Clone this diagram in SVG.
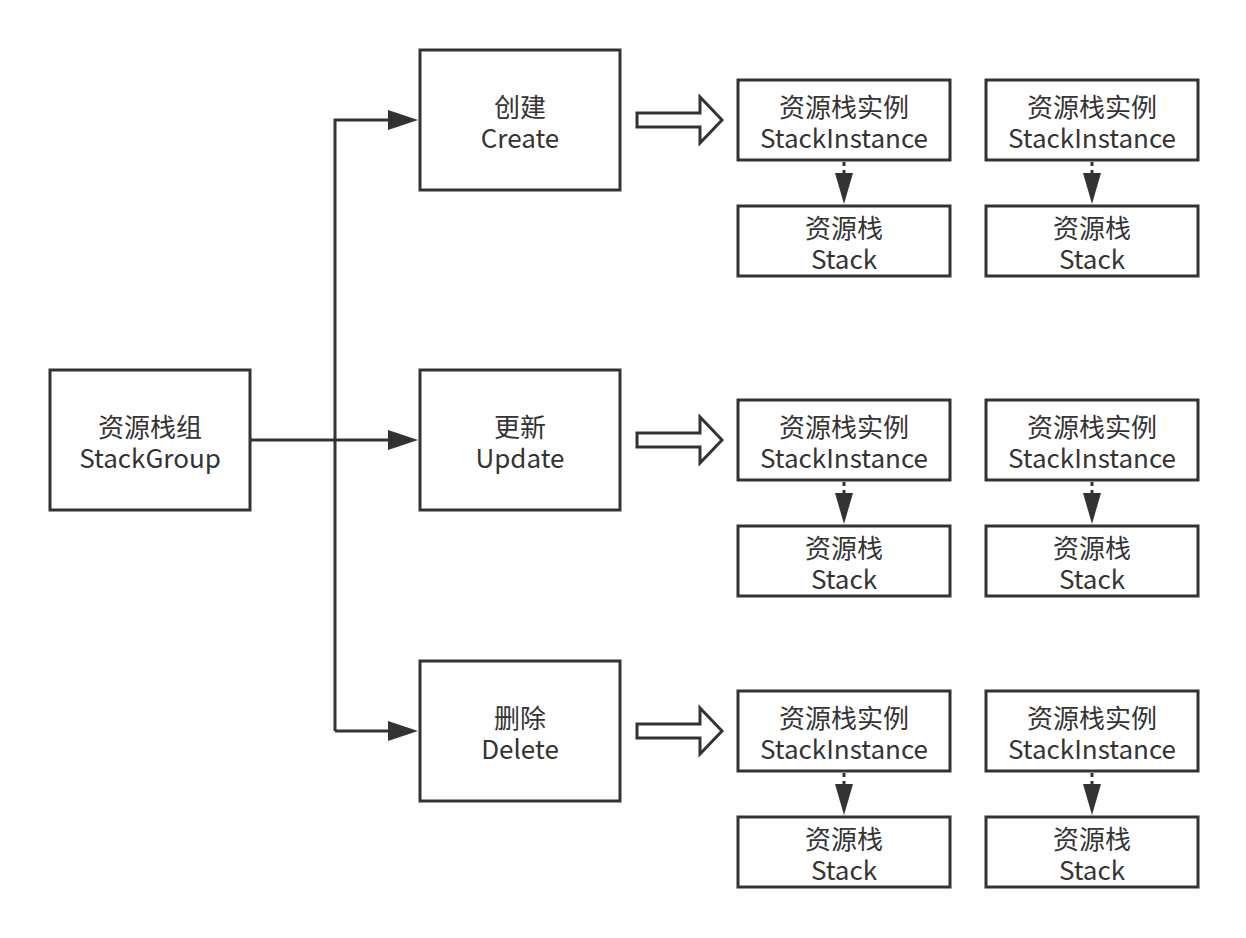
<svg xmlns="http://www.w3.org/2000/svg" width="1246" height="938" viewBox="0 0 1246 938">
<style>
.box{fill:#fff;stroke:#333;stroke-width:3}
.t{font-family:"Noto Sans CJK SC","Noto Sans",sans-serif;font-size:26px;fill:#333;text-anchor:middle}
.ln{fill:none;stroke:#333;stroke-width:3}
.dash{fill:none;stroke:#333;stroke-width:3;stroke-dasharray:4 4}
.hollow{fill:#fff;stroke:#333;stroke-width:3;stroke-linejoin:miter}
.head{fill:#333}
</style>
<rect width="1246" height="938" fill="#fff"/>
<g id="connectors">
<path class="ln" d="M250,440 L405,440"/>
<path class="ln" d="M335,731 L335,120 L405,120"/>
<path class="ln" d="M335,731 L405,731"/>
<path class="head" d="M388,110 L418,120 L388,130 Z"/>
<path class="head" d="M388,430 L418,440 L388,450 Z"/>
<path class="head" d="M388,721 L418,731 L388,741 Z"/>
<path class="hollow" d="M637,113 L700,113 L700,97 L722,120 L700,143 L700,127 L637,127 Z"/>
<path class="hollow" d="M637,433 L700,433 L700,417 L722,440 L700,463 L700,447 L637,447 Z"/>
<path class="hollow" d="M637,724 L700,724 L700,708 L722,731 L700,754 L700,738 L637,738 Z"/>
<g>
<path class="dash" d="M844,162 L844,174"/><path class="head" d="M835,173 L853,173 L844,204 Z"/>
<path class="dash" d="M1092,162 L1092,174"/><path class="head" d="M1083,173 L1101,173 L1092,204 Z"/>
<path class="dash" d="M844,482 L844,494"/><path class="head" d="M835,493 L853,493 L844,524 Z"/>
<path class="dash" d="M1092,482 L1092,494"/><path class="head" d="M1083,493 L1101,493 L1092,524 Z"/>
<path class="dash" d="M844,773 L844,785"/><path class="head" d="M835,784 L853,784 L844,815 Z"/>
<path class="dash" d="M1092,773 L1092,785"/><path class="head" d="M1083,784 L1101,784 L1092,815 Z"/>
</g>
</g>
<g id="stackgroup"><rect class="box" x="50" y="370" width="200" height="140"/><text class="t"><tspan x="150" y="437">资源栈组</tspan><tspan x="150" y="468">StackGroup</tspan></text></g>
<g id="create"><rect class="box" x="420" y="50" width="200" height="140"/><text class="t"><tspan x="520" y="117">创建</tspan><tspan x="520" y="148">Create</tspan></text></g>
<g id="update"><rect class="box" x="420" y="370" width="200" height="140"/><text class="t"><tspan x="520" y="437">更新</tspan><tspan x="520" y="468">Update</tspan></text></g>
<g id="delete"><rect class="box" x="420" y="661" width="200" height="140"/><text class="t"><tspan x="520" y="728">删除</tspan><tspan x="520" y="759">Delete</tspan></text></g>

<g id="inst-1a"><rect class="box" x="738" y="80" width="212" height="80"/><text class="t"><tspan x="844" y="117">资源栈实例</tspan><tspan x="844" y="148">StackInstance</tspan></text></g>
<g id="stack-1a"><rect class="box" x="738" y="206" width="212" height="70"/><text class="t"><tspan x="844" y="238">资源栈</tspan><tspan x="844" y="269">Stack</tspan></text></g>
<g id="inst-1b"><rect class="box" x="986" y="80" width="212" height="80"/><text class="t"><tspan x="1092" y="117">资源栈实例</tspan><tspan x="1092" y="148">StackInstance</tspan></text></g>
<g id="stack-1b"><rect class="box" x="986" y="206" width="212" height="70"/><text class="t"><tspan x="1092" y="238">资源栈</tspan><tspan x="1092" y="269">Stack</tspan></text></g>

<g id="inst-2a"><rect class="box" x="738" y="400" width="212" height="80"/><text class="t"><tspan x="844" y="437">资源栈实例</tspan><tspan x="844" y="468">StackInstance</tspan></text></g>
<g id="stack-2a"><rect class="box" x="738" y="526" width="212" height="70"/><text class="t"><tspan x="844" y="558">资源栈</tspan><tspan x="844" y="589">Stack</tspan></text></g>
<g id="inst-2b"><rect class="box" x="986" y="400" width="212" height="80"/><text class="t"><tspan x="1092" y="437">资源栈实例</tspan><tspan x="1092" y="468">StackInstance</tspan></text></g>
<g id="stack-2b"><rect class="box" x="986" y="526" width="212" height="70"/><text class="t"><tspan x="1092" y="558">资源栈</tspan><tspan x="1092" y="589">Stack</tspan></text></g>

<g id="inst-3a"><rect class="box" x="738" y="691" width="212" height="80"/><text class="t"><tspan x="844" y="728">资源栈实例</tspan><tspan x="844" y="759">StackInstance</tspan></text></g>
<g id="stack-3a"><rect class="box" x="738" y="817" width="212" height="70"/><text class="t"><tspan x="844" y="849">资源栈</tspan><tspan x="844" y="880">Stack</tspan></text></g>
<g id="inst-3b"><rect class="box" x="986" y="691" width="212" height="80"/><text class="t"><tspan x="1092" y="728">资源栈实例</tspan><tspan x="1092" y="759">StackInstance</tspan></text></g>
<g id="stack-3b"><rect class="box" x="986" y="817" width="212" height="70"/><text class="t"><tspan x="1092" y="849">资源栈</tspan><tspan x="1092" y="880">Stack</tspan></text></g>
</svg>
